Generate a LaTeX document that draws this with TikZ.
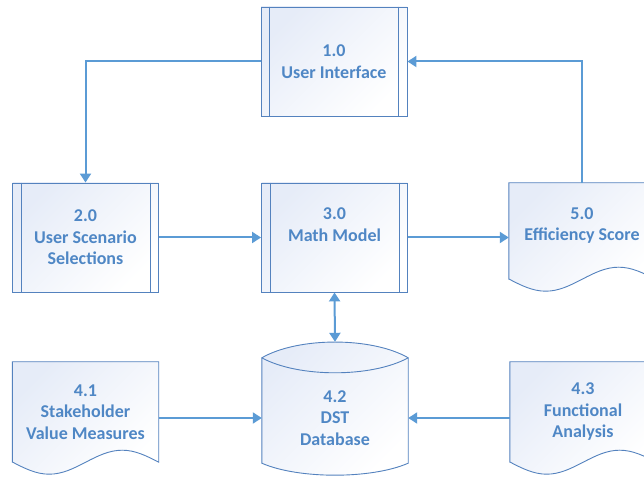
\documentclass[tikz,border=0pt]{standalone}
\usepackage{fontspec}
\setmainfont{Carlito}
\usetikzlibrary{arrows.meta,backgrounds}
\definecolor{shapeline}{RGB}{84,130,190}
\definecolor{flowline}{RGB}{91,155,213}
\definecolor{labeltext}{RGB}{79,135,197}
\definecolor{shapefill}{RGB}{230,236,248}

\begin{document}
\begin{tikzpicture}[x=1pt, y=1pt,
  txt/.style={minimum width=146pt, inner sep=0pt, align=center, text=labeltext,
    font=\bfseries\fontsize{18}{21.5}\selectfont},
  outline/.style={draw=shapeline, line width=0.9pt, top color=shapefill, bottom color=white, shading angle=45},
  proc/.style={txt, outline, minimum height=109pt},
  flow/.style={draw=flowline, line width=2pt, -{Triangle[width=11pt,length=9pt]}}]
\newcommand\ProcLines[1]{([xshift=9]#1.north west) -- ([xshift=9]#1.south west) ([xshift=-9]#1.north east) -- ([xshift=-9]#1.south east)}
\newcommand\DocShape[1]{(#1.south west) -- (#1.north west) -- (#1.north east) -- (#1.south east) sin ++(-36.5,12) cos ++(-36.5,-12) sin ++(-36.5,-12) cos ++(-36.5,12) -- cycle}
\useasboundingbox (0,0) rectangle (644,478);

% processes
\node[proc] (ui) at (334,416.5) {1.0\\User Interface};
\node[proc] (sel) at (85.5,240.5) {2.0\\User Scenario\\Selections};
\node[proc, text depth=26pt] (math) at (334.5,240.5) {3.0\\Math Model};
\draw[draw=shapeline, line width=0.9pt] \ProcLines{ui} \ProcLines{sel} \ProcLines{math};

% documents and database
\node[txt, minimum height=96pt, text depth=14pt] (eff) at (582,247) {5.0\\Efficiency Score};
\node[txt, minimum height=100pt] (svm) at (85.5,66) {4.1\\Stakeholder\\Value Measures};
\node[txt, minimum height=100pt] (fa) at (583,66) {4.3\\Functional\\Analysis};
\node[txt, minimum height=90pt] (db) at (335,60) {4.2\\DST\\Database};
\coordinate (dbtop) at ([yshift=31]db.north);
\begin{scope}[on background layer]
\draw[outline] \DocShape{eff};
\draw[outline] \DocShape{svm};
\draw[outline] \DocShape{fa};
\draw[outline] ([yshift=15]db.north west)
  .. controls ([xshift=36.5,yshift=36]db.north west) and ([xshift=-36.5,yshift=36]db.north east) .. ([yshift=15]db.north east)
  -- (db.south east)
  .. controls ([xshift=-36.5,yshift=-16]db.south east) and ([xshift=36.5,yshift=-16]db.south west) .. (db.south west) -- cycle;
\draw[draw=shapeline, line width=0.9pt] ([yshift=15]db.north west)
  .. controls ([xshift=36.5,yshift=-5]db.north west) and ([xshift=-36.5,yshift=-5]db.north east) .. ([yshift=15]db.north east);
\end{scope}

% flows
\draw[flow] (ui.west) -| (sel.north);
\draw[flow] (sel.east) -- (math.west);
\draw[flow] (math.east) -- (math.east -| eff.west);
\draw[flow] (eff.north) |- (ui.east);
\draw[flow, {Triangle[width=11pt,length=9pt]}-{Triangle[width=11pt,length=9pt]}] (math.south) -- (dbtop);
\draw[flow] (svm.east |- db.west) -- (db.west);
\draw[flow] (fa.west |- db.east) -- (db.east);
\end{tikzpicture}
\end{document}
